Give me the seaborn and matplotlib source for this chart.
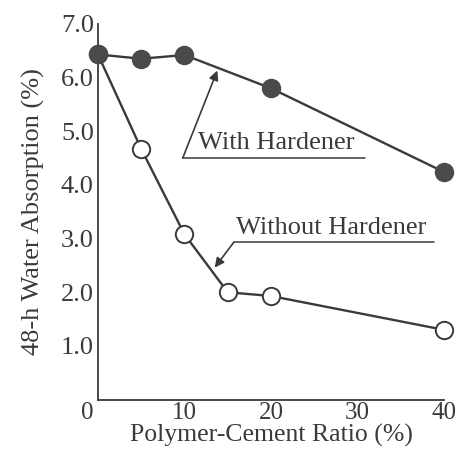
import matplotlib
matplotlib.use("Agg")
import matplotlib.pyplot as plt
import matplotlib.transforms as mtransforms
import seaborn as sns
import pandas as pd

# Polymer-cement ratio (%) and 48-h water absorption (%)
ratio_with = [0, 5, 10, 20, 40]
absorption_with = [6.43, 6.35, 6.42, 5.80, 4.24]
ratio_without = [0, 5, 10, 15, 20, 40]
absorption_without = [6.43, 4.67, 3.08, 2.00, 1.93, 1.30]

x_ticks = [0, 10, 20, 30, 40]
x_tick_labels = ["0", "10", "20", "30", "40"]
y_ticks = [1, 2, 3, 4, 5, 6, 7]
y_tick_labels = ["1.0", "2.0", "3.0", "4.0", "5.0", "6.0", "7.0"]

sns.set_theme(style="white")
plt.rcParams["font.family"] = ["Liberation Serif", "DejaVu Serif"]

ink = "#3a3a3a"
fs = 19
fig = plt.figure(figsize=(4.62, 4.5), dpi=100)
ax = fig.add_axes([0.212, 0.112, 0.749, 0.835])

df_without = pd.DataFrame({"ratio": ratio_without, "absorption": absorption_without})
df_with = pd.DataFrame({"ratio": ratio_with, "absorption": absorption_with})

sns.lineplot(data=df_without, x="ratio", y="absorption", ax=ax, color=ink,
             linewidth=1.7, marker="o", markersize=12.5, markerfacecolor="white",
             markeredgecolor=ink, markeredgewidth=1.4, zorder=3, clip_on=False)
sns.lineplot(data=df_with, x="ratio", y="absorption", ax=ax, color=ink,
             linewidth=1.7, marker="o", markersize=13, markerfacecolor="#4a4a4a",
             markeredgecolor="#4a4a4a", markeredgewidth=1.0, zorder=4, clip_on=False)

ax.set_xlim(0, 40)
ax.set_ylim(0, 7)
ax.set_xticks(x_ticks)
ax.set_xticklabels(x_tick_labels)
ax.set_yticks(y_ticks)
ax.set_yticklabels(y_tick_labels)

for side in ["top", "right"]:
    ax.spines[side].set_visible(False)
for side in ["left", "bottom"]:
    ax.spines[side].set_color(ink)
    ax.spines[side].set_linewidth(1.3)

ax.tick_params(axis="both", direction="in", length=4, width=1.2, color=ink,
               labelsize=fs, labelcolor=ink)
ax.tick_params(axis="y", pad=3)
ax.tick_params(axis="x", pad=2, labelsize=18)

# the origin label sits a little left of the corner
first = ax.get_xticklabels()[0]
first.set_transform(first.get_transform() +
                    mtransforms.ScaledTranslation(-11 / 100, 0, fig.dpi_scale_trans))

ax.set_xlabel("Polymer-Cement Ratio (%)", fontsize=18.5, color=ink, labelpad=0)
ax.set_ylabel("48-h Water Absorption (%)", fontsize=fs, color=ink, labelpad=11)

# callout labels with underline and leader arrow
arrow = dict(arrowstyle="-|>", color=ink, lw=1.2, mutation_scale=14,
             shrinkA=0, shrinkB=0)

ax.text(11.6, 4.57, "With Hardener", fontsize=fs, color=ink, ha="left", va="bottom")
ax.plot([9.8, 30.9], [4.5, 4.5], color=ink, lw=1.1, clip_on=False)
ax.annotate("", xy=(13.8, 6.13), xytext=(9.8, 4.5), arrowprops=arrow)

ax.text(16.0, 3.0, "Without Hardener", fontsize=fs, color=ink, ha="left", va="bottom")
ax.plot([15.7, 38.8], [2.93, 2.93], color=ink, lw=1.1, clip_on=False)
ax.annotate("", xy=(13.5, 2.46), xytext=(15.7, 2.93), arrowprops=arrow)

fig.savefig("out.png", dpi=100)
